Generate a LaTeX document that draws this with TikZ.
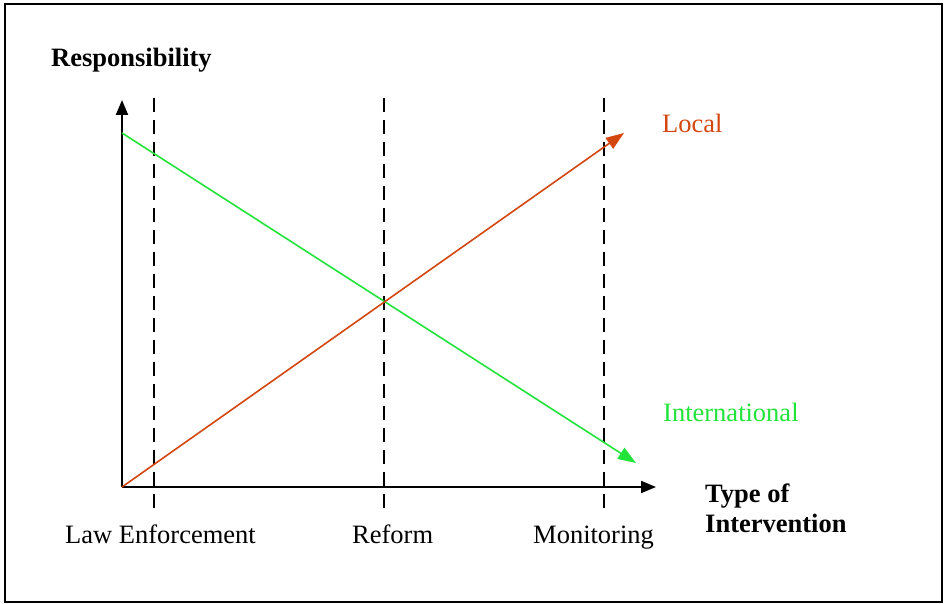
\documentclass[tikz,border=0pt]{standalone}
\usepackage{fontspec}
\setmainfont{Liberation Serif}
\usetikzlibrary{arrows.meta}
\definecolor{localc}{HTML}{D4460F}
\definecolor{intc}{HTML}{22E33A}
\tikzset{
  axis/.style={line width=2pt,-{Triangle[length=15pt,width=12pt]}},
  trend/.style={line width=1.6pt,-{Triangle[length=18pt,width=13pt]}},
  guide/.style={line width=1.6pt,dash pattern=on 14pt off 8pt},
  lbl/.style={anchor=base west,inner sep=0pt,font=\fontsize{26.5}{30}\selectfont},
  blbl/.style={lbl,font=\fontsize{26.5}{30}\selectfont\bfseries},
}
\begin{document}
\begin{tikzpicture}[x=1pt,y=-1pt]
\useasboundingbox (0,0) rectangle (945,604);
\draw[line width=1.6pt] (5,4) rectangle (942,602);
% coordinates
\coordinate (O) at (122,487);
\coordinate (ytop) at (122,100);
\coordinate (xend) at (656,487);
\coordinate (g0) at (122,133);
\coordinate (g1) at (636,463);
\coordinate (l1) at (624,133);
\coordinate (d1a) at (154,98); \coordinate (d1b) at (154,510);
\coordinate (d2a) at (384,98); \coordinate (d2b) at (384,510);
\coordinate (d3a) at (604,98); \coordinate (d3b) at (604,510);
% guides
\draw[guide] (d1a) -- (d1b);
\draw[guide] (d2a) -- (d2b);
\draw[guide] (d3a) -- (d3b);
% axes
\draw[axis] (O) -- (ytop);
\draw[axis] (O) -- (xend);
% trend lines
\draw[trend,intc] (g0) -- (g1);
\draw[trend,localc] (O) -- (l1);
% labels
\node[blbl] (resp) at (51,67) {Responsibility};
\node[lbl,text=localc] (local) at (662,133) {Local};
\node[lbl,text=intc] (intl) at (663,421) {International};
\node[lbl] (law) at (65,543) {Law Enforcement};
\node[lbl] (reform) at (352,543) {Reform};
\node[lbl] (mon) at (533,543) {Monitoring};
\node[blbl] (type) at (705,502) {Type of};
\node[blbl] (interv) at (705,532) {Intervention};
\end{tikzpicture}
\end{document}
